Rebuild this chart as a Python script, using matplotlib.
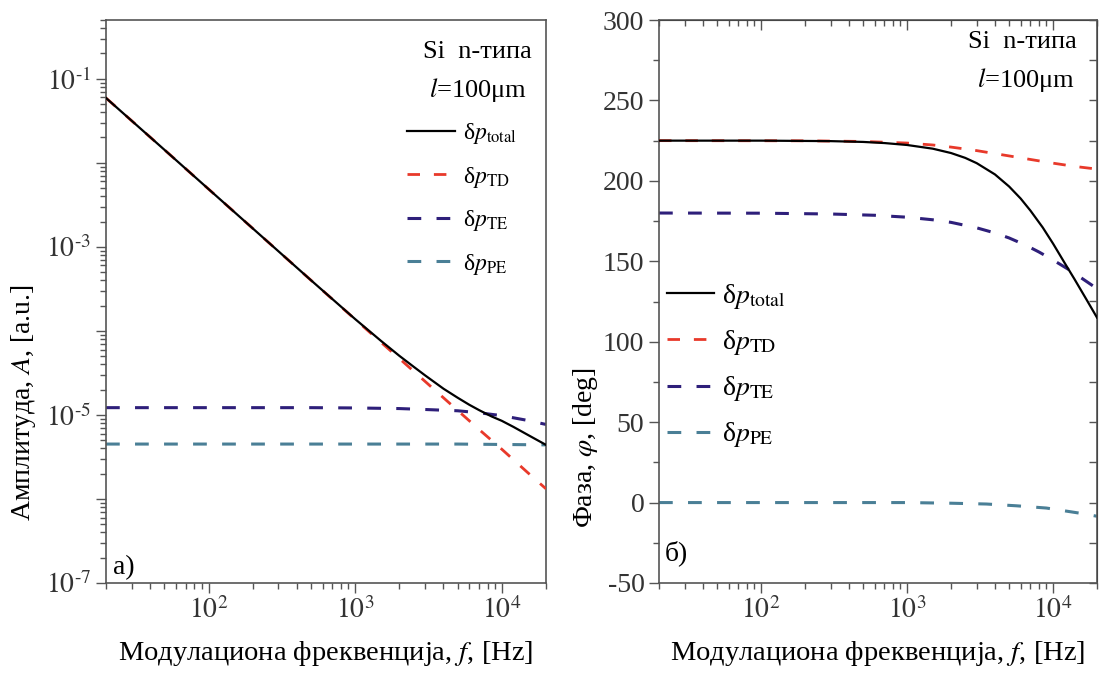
import numpy as np
import matplotlib
matplotlib.use("Agg")
import matplotlib.pyplot as plt
from matplotlib.ticker import LogLocator, FuncFormatter, NullFormatter, MultipleLocator

plt.rcParams['font.family'] = ['Liberation Serif', 'DejaVu Serif']
plt.rcParams['mathtext.fontset'] = 'stix'
plt.rcParams['axes.unicode_minus'] = False

# --- amplitude data (panel a) ---
f_td = [20, 50, 100, 200, 500, 1000, 2000, 3000, 5000, 7000, 10000, 15000, 20000]
amp_td = [5.9e-2, 1.43e-2, 4.87e-3, 1.66e-3, 4.0e-4, 1.37e-4, 4.69e-5, 2.5e-5,
          1.13e-5, 6.7e-6, 3.9e-6, 2.06e-6, 1.32e-6]
f_tot = [20, 50, 100, 200, 500, 1000, 1500, 2000, 2500, 3000, 4000, 5000, 6000,
         7000, 8500, 10000, 12000, 15000, 17500, 20000]
amp_total = [5.9e-2, 1.43e-2, 4.87e-3, 1.66e-3, 4.0e-4, 1.38e-4, 7.6e-5, 5.05e-5,
             3.75e-5, 2.95e-5, 2.05e-5, 1.6e-5, 1.32e-5, 1.14e-5, 9.6e-6, 8.5e-6,
             7.2e-6, 5.8e-6, 5.0e-6, 4.4e-6]
f_te = [20, 100, 500, 1000, 2000, 3000, 5000, 7000, 10000, 15000, 20000]
amp_te = [1.22e-5, 1.22e-5, 1.22e-5, 1.21e-5, 1.19e-5, 1.16e-5, 1.12e-5, 1.06e-5,
          9.8e-6, 8.6e-6, 7.7e-6]
f_pe = [20, 1000, 5000, 10000, 20000]
amp_pe = [4.5e-6, 4.5e-6, 4.5e-6, 4.45e-6, 4.4e-6]

# --- phase data (panel б) ---
f_ph = [20, 100, 300, 500, 700, 1000, 1500, 2000, 2500, 3000, 4000, 5000, 6000,
        7000, 8500, 10000, 12000, 14000, 17000, 20000]
ph_total = [225, 225, 224.7, 224.2, 223.5, 222.3, 220, 217.3, 214.3, 211, 204,
            196.5, 189, 181.5, 171, 161, 149, 139, 126, 115]
f_ph_td = [20, 200, 500, 1000, 1500, 2000, 3000, 5000, 7000, 10000, 14000, 20000]
ph_td = [225, 224.9, 224.5, 223.5, 222.3, 221, 218.8, 215.5, 213.3, 211, 209, 207.3]
f_ph_te = [20, 100, 300, 600, 1000, 1500, 2000, 3000, 4000, 5000, 6500, 8000,
           10000, 13000, 16000, 20000]
ph_te = [180, 179.9, 179.4, 178.6, 177.4, 175.8, 174.2, 170.8, 167.6, 164.5, 160,
         155.8, 150.8, 144.5, 139, 133]
f_ph_pe = [20, 1000, 2000, 3500, 5600, 9000, 15000, 20000]
ph_pe = [0, 0, -0.4, -0.9, -2, -3.4, -6.5, -8.5]

c_total = 'black'
c_td = '#e8392a'
c_te = '#2e1f7a'
c_pe = '#4a7f96'
dash = (4.5, 5)


def pow10(v, p, odd_only=False):
    e = int(round(np.log10(v)))
    if odd_only and e % 2 == 0:
        return ''
    if e < 0:
        return '$10^{\\text{-}%d}$' % (-e)
    return '$10^{%d}$' % e


fig = plt.figure(figsize=(11.04, 6.77), dpi=100)
W, H = 1104, 677
ax1 = fig.add_axes([106 / W, 1 - 583 / H, 440 / W, 563 / H])
ax2 = fig.add_axes([659 / W, 1 - 583 / H, 438 / W, 563 / H])

spine_c = '#555555'

# panel a
ax1.plot(f_tot, amp_total, color=c_total, lw=1.6, label='δ$p_{\\mathrm{total}}$', zorder=5)
ax1.plot(f_td, amp_td, color=c_td, lw=2, dashes=dash, label='δ$p_{\\mathrm{TD}}$', zorder=4)
ax1.plot(f_te, amp_te, color=c_te, lw=2.2, dashes=dash, label='δ$p_{\\mathrm{TE}}$')
ax1.plot(f_pe, amp_pe, color=c_pe, lw=2.2, dashes=dash, label='δ$p_{\\mathrm{PE}}$')
ax1.set_xscale('log')
ax1.set_yscale('log')
ax1.set_xlim(20, 2e4)
ax1.set_ylim(1e-7, 0.5)
ax1.yaxis.set_major_locator(LogLocator(base=10, numticks=20))
ax1.yaxis.set_minor_locator(LogLocator(base=10, subs=np.arange(2, 10), numticks=50))
ax1.yaxis.set_major_formatter(FuncFormatter(lambda v, p: pow10(v, p, odd_only=True)))
ax1.yaxis.set_minor_formatter(NullFormatter())
ax1.set_ylabel('Амплитуда, $A$, [a.u.]', fontsize=20)
ax1.yaxis.set_label_coords(-0.155, 0.32)
ax1.xaxis.set_label_coords(0.5, -0.1)
ax1.text(0.016, 0.005, 'a)', transform=ax1.transAxes, fontsize=20, va='bottom')
ax1.text(0.968, 0.943, 'Si  n-типа', transform=ax1.transAxes, fontsize=19, ha='right', va='center')
ax1.text(0.957, 0.876, '$l$=100μm', transform=ax1.transAxes, fontsize=19, ha='right', va='center')
ax1.legend(loc='upper left', bbox_to_anchor=(0.685, 0.82), frameon=False, fontsize=17,
           handlelength=2.0, handletextpad=0.35, labelspacing=0.78, borderpad=0, borderaxespad=0)

# panel б
ax2.plot(f_ph, ph_total, color=c_total, lw=1.6, label='δ$p_{\\mathrm{total}}$', zorder=5)
ax2.plot(f_ph_td, ph_td, color=c_td, lw=2, dashes=dash, label='δ$p_{\\mathrm{TD}}$', zorder=4)
ax2.plot(f_ph_te, ph_te, color=c_te, lw=2.2, dashes=dash, label='δ$p_{\\mathrm{TE}}$')
ax2.plot(f_ph_pe, ph_pe, color=c_pe, lw=2.2, dashes=dash, label='δ$p_{\\mathrm{PE}}$')
ax2.set_xscale('log')
ax2.set_xlim(20, 2e4)
ax2.set_ylim(-50, 300)
ax2.yaxis.set_major_locator(MultipleLocator(50))
ax2.yaxis.set_minor_locator(MultipleLocator(25))
ax2.set_ylabel('Фаза, $\\varphi$, [deg]', fontsize=20)
ax2.yaxis.set_label_coords(-0.135, 0.24)
ax2.xaxis.set_label_coords(0.463, -0.1)
ax2.text(0.014, 0.03, 'б)', transform=ax2.transAxes, fontsize=20, va='bottom')
ax2.text(0.954, 0.961, 'Si  n-типа', transform=ax2.transAxes, fontsize=19, ha='right', va='center')
ax2.text(0.950, 0.893, '$l$=100μm', transform=ax2.transAxes, fontsize=19, ha='right', va='center')
ax2.legend(loc='upper left', bbox_to_anchor=(0.018, 0.535), frameon=False, fontsize=20,
           handlelength=1.7, handletextpad=0.3, labelspacing=0.62, borderpad=0, borderaxespad=0)

sec_x = ax2.secondary_xaxis('top')
sec_x.tick_params(which='both', direction='in', labeltop=False, colors=spine_c)
sec_x.tick_params(which='major', length=7, width=1)
sec_x.tick_params(which='minor', length=4, width=1)
sec_x.xaxis.set_major_formatter(NullFormatter())
sec_x.xaxis.set_minor_formatter(NullFormatter())
sec_y = ax2.secondary_yaxis('right')
sec_y.yaxis.set_major_locator(MultipleLocator(25))
sec_y.tick_params(which='both', direction='in', labelright=False, length=6, width=1, colors=spine_c)
sec_y.yaxis.set_major_formatter(NullFormatter())

for ax in (ax1, ax2):
    ax.set_xlabel('Модулациона фреквенција, $f$, [Hz]', fontsize=20.5)
    ax.xaxis.set_major_locator(LogLocator(base=10, numticks=10))
    ax.xaxis.set_minor_locator(LogLocator(base=10, subs=np.arange(2, 10), numticks=50))
    ax.xaxis.set_major_formatter(FuncFormatter(pow10))
    ax.xaxis.set_minor_formatter(NullFormatter())
    ax.tick_params(which='both', direction='out', labelsize=20, colors='#333333',
                   top=False, right=False)
    ax.tick_params(which='major', length=7, width=1, color=spine_c)
    ax.tick_params(which='minor', length=4, width=1, color=spine_c)
    for s in ax.spines.values():
        s.set_color(spine_c)
        s.set_linewidth(1.2)

fig.savefig('out.png', dpi=100, facecolor='white')
